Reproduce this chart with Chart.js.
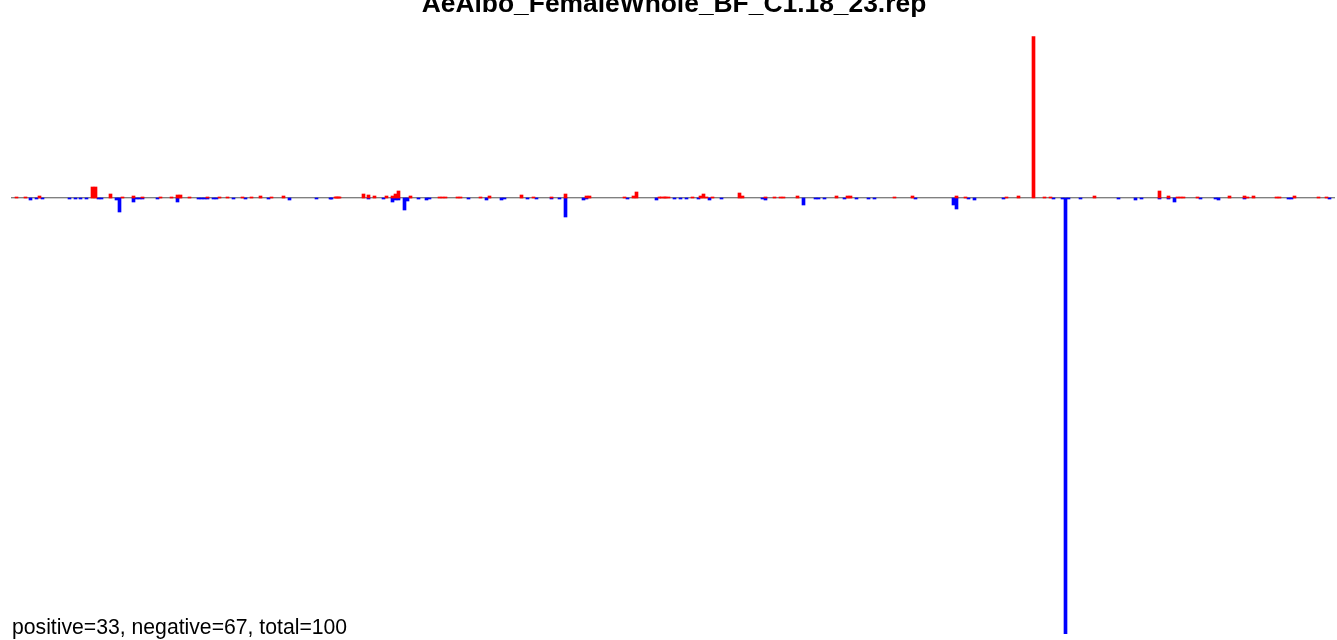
<!DOCTYPE html>
<html>
<head>
<meta charset="utf-8">
<script src="https://cdn.jsdelivr.net/npm/chart.js@4"></script>
<style>
  html, body { margin: 0; padding: 0; background: #fff; }
  #wrap { width: 1337px; height: 640px; position: relative; }
</style>
</head>
<body>
<div id="wrap"><canvas id="repChart"></canvas></div>
<script>
/* ================= DATA ================= */
const chartTitle = "AeAlbo_FemaleWhole_BF_C1.18_23.rep";
const summaryText = "positive=33, negative=67, total=100";

// positive (red) bars: position, value
const posX = [15, 24, 38, 91, 94, 109, 121, 132, 141, 159, 170, 176, 179, 188, 206, 218, 226, 241, 250, 259, 270, 282, 334, 337,
  335, 338, 362, 367, 373, 385, 391, 394, 397, 409, 438, 441, 444, 456, 459, 479, 488, 520, 532, 550, 564, 585, 588, 623, 632, 635, 658, 664, 667,
  660, 663, 691, 699, 702, 705, 711, 738, 741, 764, 773, 779, 782, 796, 835, 846, 849, 893, 911, 955, 964,
  1005, 1017, 1032, 1043, 1049, 1093, 1158, 1167, 1176, 1179, 1182, 1196, 1228, 1243, 1246, 1252, 1275, 1278, 1293, 1317, 1325];
const posVal = [1, 1, 2, 11, 11, 4, 1, 2, 1, 1, 1, 3, 3, 1, 1, 1, 1, 1, 1, 2, 1, 2, 1, 1,
  1, 1, 4, 3, 2, 2, 2, 4, 7, 2, 1, 1, 1, 1, 1, 1, 2, 3, 1, 1, 4, 2, 2, 1, 2, 6, 1, 1, 1,
  1, 1, 1, 2, 4, 1, 1, 5, 2, 1, 1, 1, 1, 2, 2, 2, 2, 1, 2, 2, 1,
  1, 2, 161.3, 1, 1, 2, 7, 2, 1, 1, 1, 1, 2, 2, 1, 2, 1, 1, 2, 1, 1];

// negative (blue) bars: position, value
const negX = [29, 35, 41, 68, 74, 79, 85, 97, 100, 115, 118, 132, 135, 138, 141, 156, 176, 197, 200, 203, 206, 212, 215, 232, 244, 267, 288, 315, 329,
  330, 367, 382, 391, 394, 397, 403, 406, 417, 425, 428, 467, 485, 500, 503, 526, 535, 550, 558, 564, 582, 585, 626, 655,
  673, 679, 685, 697, 708, 720, 761, 764, 802, 814, 817, 823, 843, 855, 867, 873, 914, 952, 955, 967, 973,
  1002, 1052, 1061, 1064, 1067, 1079, 1117, 1134, 1140, 1158, 1167, 1173, 1199, 1214, 1217, 1243, 1287, 1290, 1328];
const negVal = [-2, -1, -1, -1, -1, -1, -1, -1, -1, -2, -14, -4, -1, -1, -1, -1, -4, -1, -1, -1, -1, -1, -1, -1, -1, -1, -2, -1, -1,
  -1, -1, -1, -4, -2, -2, -12, -3, -1, -2, -1, -1, -2, -2, -1, -1, -1, -1, -1, -19, -2, -1, -1, -2,
  -1, -1, -1, -1, -2, -1, -1, -2, -7, -1, -1, -1, -1, -1, -1, -1, -1, -7, -11, -1, -2,
  -1, -1, -1, -435.7, -1, -1, -1, -2, -1, -1, -1, -4, -1, -1, -2, -1, -1, -1, -1];

/* ================= PLUGINS ================= */
// zero line under the bars: dark row above zero, light row below
const baselinePlugin = {
  id: "baseline",
  beforeDatasetsDraw(chart) {
    const { ctx, scales } = chart;
    const y0 = Math.round(scales.y.getPixelForValue(0));
    const x1 = scales.x.getPixelForValue(11);
    const x2 = scales.x.getPixelForValue(1335);
    ctx.save();
    ctx.fillStyle = "#d0d0d0";
    ctx.fillRect(x1, y0, x2 - x1, 1);
    ctx.fillStyle = "#808080";
    ctx.fillRect(x1, y0 - 1, x2 - x1, 1);
    ctx.restore();
  }
};

// title and summary text
const textPlugin = {
  id: "texts",
  afterDraw(chart) {
    const { ctx } = chart;
    ctx.save();
    ctx.fillStyle = "#000";
    ctx.textBaseline = "alphabetic";
    ctx.font = "bold 26.4px 'Liberation Sans', Arial, sans-serif";
    ctx.textAlign = "center";
    ctx.fillText(chartTitle, 674, 12);
    ctx.font = "21.2px 'Liberation Sans', Arial, sans-serif";
    ctx.textAlign = "left";
    ctx.fillText(summaryText, 12, 634);
    ctx.restore();
  }
};

/* ================= CHART ================= */
const toPoints = (xs, ys) => xs.map((x, i) => ({ x: x + 1.5, y: ys[i] }));

new Chart(document.getElementById("repChart"), {
  type: "bar",
  data: {
    datasets: [
      {
        label: "positive",
        data: toPoints(posX, posVal),
        backgroundColor: "#ff0000",
        barThickness: 3,
        borderWidth: 0
      },
      {
        label: "negative",
        data: toPoints(negX, negVal),
        backgroundColor: "#0000ff",
        barThickness: 3,
        borderWidth: 0
      }
    ]
  },
  options: {
    responsive: true,
    maintainAspectRatio: false,
    animation: false,
    layout: { padding: 0 },
    plugins: {
      legend: { display: false },
      title: { display: false },
      tooltip: { enabled: false }
    },
    scales: {
      x: { type: "linear", min: 0, max: 1337, offset: false, display: false, stacked: true },
      y: { min: -442, max: 198, display: false, stacked: false }
    }
  },
  plugins: [baselinePlugin, textPlugin]
});
</script>
</body>
</html>
